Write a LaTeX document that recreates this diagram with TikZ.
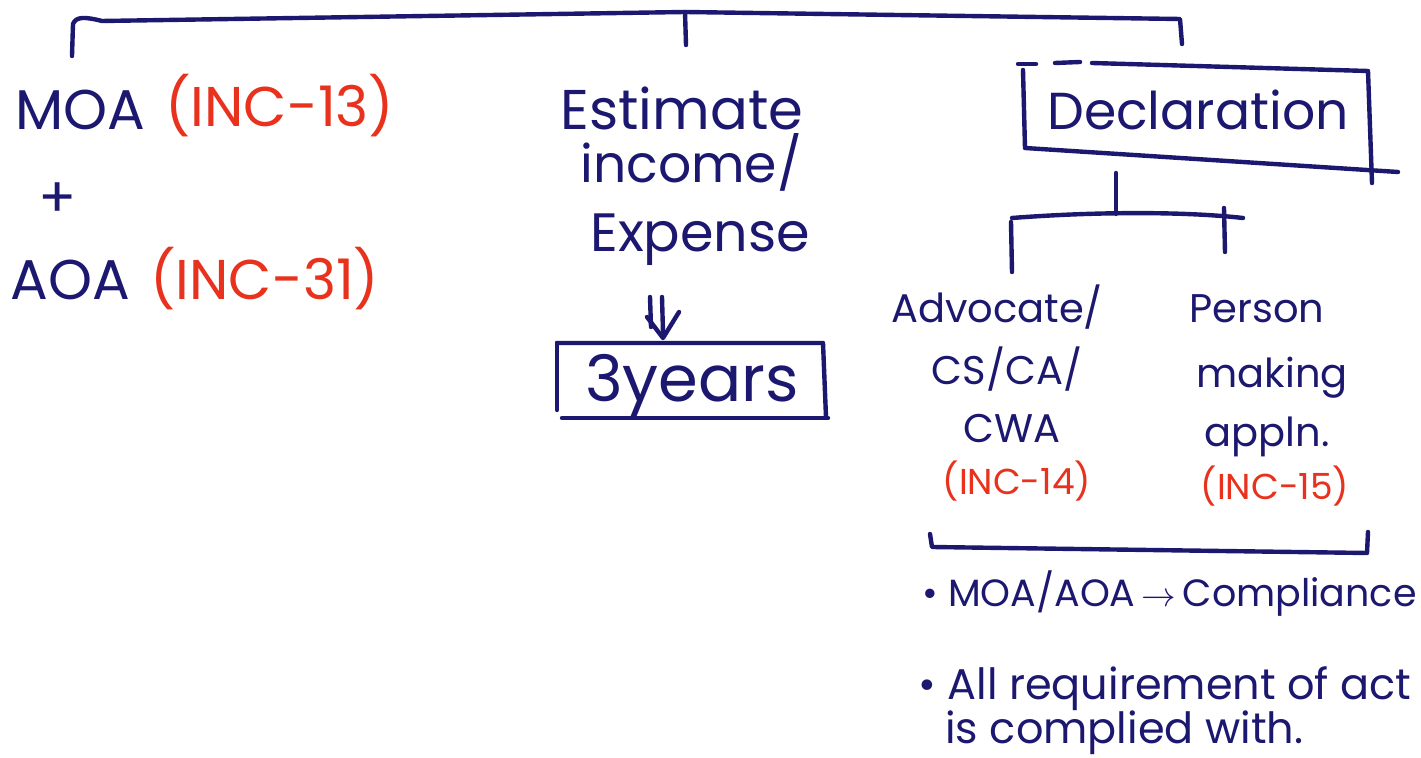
\documentclass[tikz,border=0pt]{standalone}
\usepackage{fontspec}
\setmainfont{Poppins}
\definecolor{ink}{RGB}{28,24,112}
\definecolor{redink}{RGB}{232,50,30}
\tikzset{
  pen/.style={draw=ink, line width=2.2pt, line cap=round, line join=round},
  word/.style={text=ink, inner sep=0pt, anchor=base west},
  cword/.style={text=ink, inner sep=0pt, anchor=base},
  refnote/.style={text=redink},
  big/.style={font=\fontsize{28}{30}\selectfont},
  mid/.style={font=\fontsize{20}{22}\selectfont},
  note/.style={font=\fontsize{19}{21}\selectfont},
  bignote/.style={font=\fontsize{21.5}{23}\selectfont},
  small/.style={font=\fontsize{18}{20}\selectfont},
}
\begin{document}
\begin{tikzpicture}[x=0.5pt,y=-0.5pt]
\useasboundingbox[fill=white] (0,0) rectangle (1421,758);

% ---- top bracket joining the three branches
\coordinate (legA) at (72,56);
\coordinate (legB) at (686,45);
\coordinate (legC) at (1182,44);
\coordinate (topM) at (685,12);
\draw[pen] (legA) -- (73,24) .. controls (76,16) and (86,17) .. (102,21)
  -- (topM) -- (1180,19) -- (legC);
\draw[pen] (topM) -- (legB);

% ---- left branch
\node[word,big] (moa) at (15,130) {MOA};
\node[word,big,refnote] (inc13) at (165,127) {(INC-13)};
\node[cword,big] (plus) at (58,218) {+};
\node[word,big] (aoa) at (10,300) {AOA};
\node[word,big,refnote] (inc31) at (150,300) {(INC-31)};

% ---- middle branch
\node[word,big] (est) at (560,130) {Estimate};
\node[word,font=\fontsize{26}{28}\selectfont] (inc) at (580,183) {income/};
\node[word,font=\fontsize{27}{29}\selectfont] (exp) at (590,252) {Expense};
% double arrow down to the period box
\coordinate (dnB) at (663,338);
\draw[pen] (650,297) -- (651,327);
\draw[pen] (662,297) -- (663,332);
\draw[pen] (647,317) -- (dnB) -- (679,312);
\node[cword,font=\fontsize{32}{34}\selectfont] (yrs) at (692,402) {3years};
\draw[pen] (557,343) -- (557,410);
\draw[pen] (557,343) -- (823,343) -- (826,417);
\draw[pen] (562,418) -- (828,418);

% ---- right branch: declaration box
\node[cword,font=\fontsize{26}{28}\selectfont] (decl) at (1198,130) {Declaration};
\draw[pen] (1018,64) -- (1036,64);
\draw[pen] (1055,63) -- (1080,62);
\draw[pen] (1092,63) -- (1368,71) -- (1372,183);
\draw[pen] (1023,70) -- (1025,148) -- (1398,172);

% ---- sub-tree under the declaration
\coordinate (stemT) at (1116,173);
\coordinate (stemB) at (1116,214);
\coordinate (barL) at (1012,218);
\coordinate (barR) at (1243,218);
\draw[pen] (stemT) -- (stemB);
\draw[pen] (barL) .. controls (1090,212) and (1180,211) .. (barR);
\draw[pen] (1011,222) -- (1012,272);
\draw[pen] (1224,208) -- (1225,252);

\node[cword,mid] (adv) at (997,323) {Advocate/};
\node[cword,mid] (cs) at (1007,385) {CS/CA/};
\node[cword,mid] (cwa) at (1012,443) {CWA};
\node[cword,small,refnote] (inc14) at (1017,495) {(INC-14)};

\node[cword,mid] (per) at (1257,323) {Person};
\node[cword,mid] (mak) at (1272,388) {making};
\node[cword,mid] (app) at (1267,447) {appln.};
\node[cword,small,refnote] (inc15) at (1275,500) {(INC-15)};

% ---- closing bracket under both declarants
\draw[pen] (930,534) -- (932,547) -- (1367,553) -- (1368,532);

% ---- notes
\node[word,note] (n1) at (922,607) {• MOA/AOA\,$\rightarrow$\,Compliance};
\node[word,bignote] (n2) at (918,700) {• All requirement of act};
\node[word,bignote] (n3) at (945,744) {is complied with.};
\end{tikzpicture}
\end{document}
